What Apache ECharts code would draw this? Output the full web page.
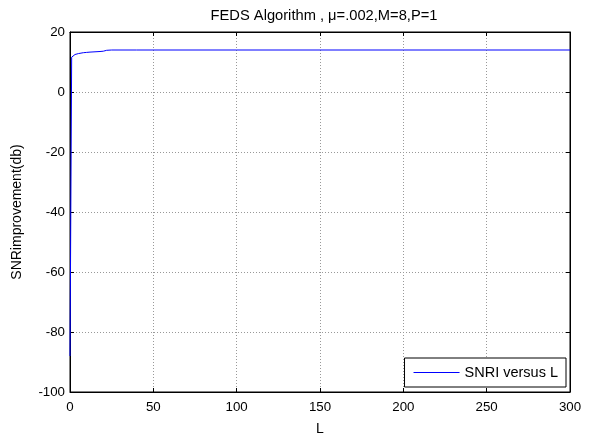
<!DOCTYPE html>
<html><head><meta charset="utf-8">
<script src="https://cdn.jsdelivr.net/npm/echarts@6/dist/echarts.min.js"></script>
<style>html,body{margin:0;padding:0;background:#fff}#c{width:598px;height:441px}</style>
</head><body><div id="c"></div>
<script>
var titleText = 'FEDS Algorithm , \u03bc=.002,M=8,P=1';
var xLabel = 'L';
var yLabel = 'SNRimprovement(db)';
var seriesName = 'SNRI versus L';
var Lvals = [0, 1, 2, 3, 4, 5, 6, 8, 10, 12, 15, 18, 20, 22, 25, 30, 40, 60, 100, 150, 200, 250, 300];
var snri  = [-88, 11.6, 12.2, 12.5, 12.7, 12.8, 12.9, 13.1, 13.2, 13.3, 13.4, 13.5, 13.6, 13.9, 14.0, 14.0, 14.0, 14.0, 14.0, 14.0, 14.0, 14.0, 14.0];
var xTicks = [0, 50, 100, 150, 200, 250, 300];
var yTicks = [-100, -80, -60, -40, -20, 0, 20];

var font = 'Liberation Sans, Arial, sans-serif';
var data = Lvals.map(function(v, i){ return [v, snri[i]]; });
var chart = echarts.init(document.getElementById('c'));
var gridLine = {show:true, lineStyle:{color:'#999', type:[1,2], width:1}};
chart.setOption({
  animation:false,
  backgroundColor:'#fff',
  title:{text:titleText, left:319, top:3, textAlign:'center',
    textStyle:{fontFamily:font, fontSize:14.7, fontWeight:'normal', color:'#000'}},
  grid:{left:70, top:32, width:500, height:361, show:true, borderColor:'#000', borderWidth:1},
  legend:{show:true, right:32, bottom:54, orient:'vertical',
    backgroundColor:'#fff', borderColor:'#000', borderWidth:1, padding:[7,8,7,9],
    itemWidth:46, itemHeight:1, itemGap:4,
    textStyle:{fontFamily:font, fontSize:14.5, color:'#000'},
    data:[{name:seriesName, icon:'rect'}]},
  xAxis:[{type:'value', min:0, max:300, interval:50,
    name:xLabel, nameLocation:'middle', nameGap:30,
    nameTextStyle:{fontFamily:font, fontSize:14, color:'#000'},
    axisLine:{show:true, onZero:false, lineStyle:{color:'#000'}},
    axisTick:{show:true, inside:true, length:4, lineStyle:{color:'#000'}},
    axisLabel:{fontFamily:font, fontSize:13.3, color:'#000', margin:9},
    splitLine:gridLine},
   {type:'value', position:'top', min:0, max:300, interval:50,
    axisLine:{show:true, onZero:false, lineStyle:{color:'#000'}},
    axisTick:{show:true, inside:true, length:4, lineStyle:{color:'#000'}},
    axisLabel:{show:false}, splitLine:{show:false}}],
  yAxis:[{type:'value', min:-100, max:20, interval:20,
    name:yLabel, nameLocation:'middle', nameGap:46,
    nameTextStyle:{fontFamily:font, fontSize:14, color:'#000'},
    axisLine:{show:true, onZero:false, lineStyle:{color:'#000'}},
    axisTick:{show:true, inside:true, length:4, lineStyle:{color:'#000'}},
    axisLabel:{fontFamily:font, fontSize:13.3, color:'#000', margin:5},
    splitLine:gridLine},
   {type:'value', position:'right', min:-100, max:20, interval:20,
    axisLine:{show:true, onZero:false, lineStyle:{color:'#000'}},
    axisTick:{show:true, inside:true, length:4, lineStyle:{color:'#000'}},
    axisLabel:{show:false}, splitLine:{show:false}}],
  series:[{name:seriesName, type:'line', data:data, showSymbol:false, symbol:'none',
    lineStyle:{color:'#0000ff', width:1}, itemStyle:{color:'#0000ff'}}]
});
</script></body></html>
